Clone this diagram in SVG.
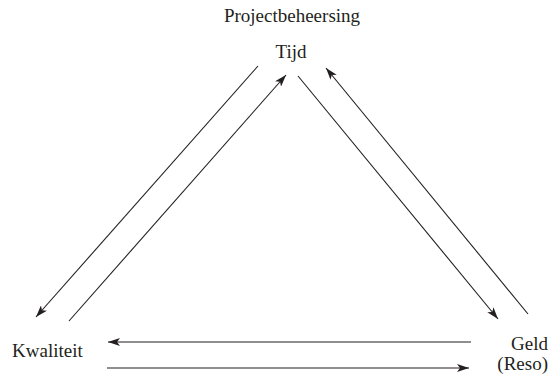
<svg xmlns="http://www.w3.org/2000/svg" width="551" height="374" viewBox="0 0 551 374">
<defs>
<marker id="ah" viewBox="0 0 12 8" refX="12" refY="4" markerWidth="12" markerHeight="8" markerUnits="userSpaceOnUse" orient="auto">
<path d="M0,0 L12,4 L0,8 L3,4 Z" fill="#231f20"/>
</marker>
<style>
text{font-family:"Liberation Serif","Times New Roman",serif;font-size:19px;fill:#231f20}
.c line{stroke:#231f20;stroke-width:1.1;fill:none}
</style>
</defs>
<rect width="551" height="374" fill="#fff"/>
<g id="title"><text x="292" y="22" text-anchor="middle">Projectbeheersing</text></g>
<g id="tijd"><text x="291" y="58" text-anchor="middle">Tijd</text></g>
<g id="kwaliteit"><text x="12" y="357">Kwaliteit</text></g>
<g id="geld"><text x="548" y="350" text-anchor="end">Geld</text><text x="548" y="370" text-anchor="end">(Reso)</text></g>
<g class="c" id="connectors">
<line x1="258" y1="66" x2="36" y2="317" marker-end="url(#ah)"/>
<line x1="69" y1="321" x2="286" y2="75" marker-end="url(#ah)"/>
<line x1="298" y1="76" x2="498" y2="319" marker-end="url(#ah)"/>
<line x1="528" y1="314" x2="326" y2="68" marker-end="url(#ah)"/>
<line x1="471" y1="342" x2="108" y2="342" marker-end="url(#ah)"/>
<line x1="107" y1="368" x2="469" y2="368" marker-end="url(#ah)"/>
</g>
</svg>
